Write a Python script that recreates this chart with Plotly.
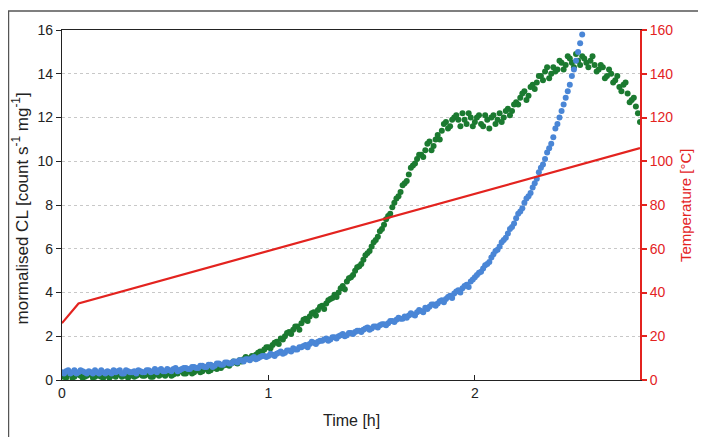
import plotly.graph_objects as go

# ---- data ----
time_h = [
    0.00, 0.02, 0.04, 0.06, 0.08, 0.10, 0.12, 0.14, 0.16, 0.18,
    0.20, 0.22, 0.24, 0.26, 0.28, 0.30, 0.32, 0.34, 0.36, 0.38,
    0.40, 0.42, 0.44, 0.46, 0.48, 0.50, 0.52, 0.54, 0.56, 0.58,
    0.60, 0.62, 0.64, 0.66, 0.68, 0.70, 0.72, 0.74, 0.76, 0.78,
    0.80, 0.82, 0.84, 0.86, 0.88, 0.90, 0.92, 0.94, 0.96, 0.98,
    1.00, 1.02, 1.04, 1.06, 1.08, 1.10, 1.12, 1.14, 1.16, 1.18,
    1.20, 1.22, 1.24, 1.26, 1.28, 1.30, 1.32, 1.34, 1.36, 1.38,
    1.40, 1.42, 1.44, 1.46, 1.48, 1.50, 1.52, 1.54, 1.56, 1.58,
    1.60, 1.62, 1.64, 1.66, 1.68, 1.70, 1.72, 1.74, 1.76, 1.78,
    1.80, 1.82, 1.84, 1.86, 1.88, 1.90, 1.92, 1.94, 1.96, 1.98,
    2.00, 2.02, 2.04, 2.06, 2.08, 2.10, 2.12, 2.14, 2.16, 2.18,
    2.20, 2.22, 2.24, 2.26, 2.28, 2.30, 2.32, 2.34, 2.36, 2.38,
    2.40, 2.42, 2.44, 2.46, 2.48, 2.50, 2.52, 2.54, 2.56, 2.58,
    2.60, 2.62, 2.64, 2.66, 2.68, 2.70, 2.72, 2.74, 2.76, 2.78,
    2.80,
]
time_h_mid = [
    0.01, 0.03, 0.05, 0.07, 0.09, 0.11, 0.13, 0.15, 0.17, 0.19,
    0.21, 0.23, 0.25, 0.27, 0.29, 0.31, 0.33, 0.35, 0.37, 0.39,
    0.41, 0.43, 0.45, 0.47, 0.49, 0.51, 0.53, 0.55, 0.57, 0.59,
    0.61, 0.63, 0.65, 0.67, 0.69, 0.71, 0.73, 0.75, 0.77, 0.79,
    0.81, 0.83, 0.85, 0.87, 0.89, 0.91, 0.93, 0.95, 0.97, 0.99,
    1.01, 1.03, 1.05, 1.07, 1.09, 1.11, 1.13, 1.15, 1.17, 1.19,
    1.21, 1.23, 1.25, 1.27, 1.29, 1.31, 1.33, 1.35, 1.37, 1.39,
    1.41, 1.43, 1.45, 1.47, 1.49, 1.51, 1.53, 1.55, 1.57, 1.59,
    1.61, 1.63, 1.65, 1.67, 1.69, 1.71, 1.73, 1.75, 1.77, 1.79,
    1.81, 1.83, 1.85, 1.87, 1.89, 1.91, 1.93, 1.95, 1.97, 1.99,
    2.01, 2.03, 2.05, 2.07, 2.09, 2.11, 2.13, 2.15, 2.17, 2.19,
    2.21, 2.23, 2.25, 2.27, 2.29, 2.31, 2.33, 2.35, 2.37, 2.39,
    2.41, 2.43, 2.45, 2.47, 2.49, 2.51, 2.53, 2.55, 2.57, 2.59,
    2.61, 2.63, 2.65, 2.67, 2.69, 2.71, 2.73, 2.75, 2.77, 2.79,
]

cl_green = [
    0.20, 0.10, 0.30, 0.15, 0.25, 0.10, 0.20, 0.30, 0.15, 0.20,
    0.10, 0.25, 0.20, 0.15, 0.30, 0.20, 0.10, 0.25, 0.20, 0.30,
    0.20, 0.25, 0.15, 0.30, 0.25, 0.20, 0.35, 0.25, 0.30, 0.40,
    0.30, 0.40, 0.35, 0.45, 0.40, 0.50, 0.45, 0.55, 0.60, 0.65,
    0.70, 0.75, 0.80, 0.90, 0.95, 1.00, 1.10, 1.15, 1.30, 1.40,
    1.50, 1.60, 1.75, 1.90, 2.00, 2.20, 2.30, 2.45, 2.60, 2.80,
    2.90, 3.10, 3.20, 3.40, 3.50, 3.70, 3.90, 4.00, 4.30, 4.50,
    4.70, 5.00, 5.20, 5.50, 5.80, 6.10, 6.40, 6.80, 7.10, 7.50,
    7.90, 8.30, 8.60, 9.00, 9.40, 9.80, 10.1, 10.3, 10.5, 10.9,
    10.7, 11.2, 11.4, 11.8, 11.6, 12.0, 11.9, 12.2, 11.7, 12.0,
    11.8, 12.1, 11.6, 11.9, 12.0, 11.7, 12.2, 12.0, 12.4, 12.3,
    12.7, 12.9, 13.2, 13.0, 13.5, 13.6, 13.9, 14.1, 13.8, 14.3,
    14.2, 14.5, 14.4, 14.7, 14.3, 14.6, 14.8, 14.5, 14.6, 14.4,
    14.2, 14.3, 13.9, 14.0, 13.7, 13.4, 13.5, 13.1, 12.8, 12.5,
    11.8,
]
cl_green_mid = [
    0.15, 0.25, 0.10, 0.30, 0.20, 0.15, 0.25, 0.10, 0.30, 0.15,
    0.20, 0.10, 0.30, 0.25, 0.15, 0.30, 0.20, 0.15, 0.25, 0.20,
    0.30, 0.15, 0.25, 0.20, 0.35, 0.30, 0.20, 0.35, 0.45, 0.30,
    0.45, 0.30, 0.50, 0.35, 0.55, 0.40, 0.60, 0.50, 0.55, 0.70,
    0.65, 0.85, 0.75, 0.85, 1.05, 0.95, 1.00, 1.25, 1.20, 1.50,
    1.45, 1.70, 1.65, 1.85, 2.15, 2.10, 2.45, 2.30, 2.75, 2.70,
    3.05, 2.95, 3.35, 3.25, 3.65, 3.75, 3.80, 4.20, 4.15, 4.65,
    4.80, 5.15, 5.30, 5.70, 5.90, 6.30, 6.55, 6.90, 7.35, 7.60,
    8.10, 8.40, 8.90, 9.10, 9.70, 9.90, 10.3, 10.2, 10.8, 10.5,
    11.0, 11.0, 11.7, 11.5, 11.9, 12.1, 11.6, 11.9, 12.2, 11.6,
    12.0, 11.7, 12.1, 11.5, 12.1, 11.9, 11.8, 12.3, 12.1, 12.6,
    12.6, 13.1, 12.8, 13.4, 13.3, 13.9, 13.7, 14.3, 14.0, 14.1,
    14.6, 14.2, 14.8, 14.5, 14.9, 14.4, 14.7, 14.3, 14.8, 14.1,
    14.4, 13.8, 14.2, 13.6, 13.9, 13.2, 13.6, 12.7, 12.9, 12.2,
]

cl_blue = [
    0.35, 0.40, 0.30, 0.45, 0.35, 0.40, 0.30, 0.35, 0.45, 0.30,
    0.35, 0.40, 0.30, 0.35, 0.45, 0.30, 0.40, 0.35, 0.30, 0.40,
    0.35, 0.45, 0.40, 0.35, 0.50, 0.40, 0.45, 0.50, 0.40, 0.50,
    0.55, 0.50, 0.60, 0.55, 0.65, 0.60, 0.70, 0.65, 0.75, 0.70,
    0.80, 0.75, 0.85, 0.90, 0.85, 0.95, 1.00, 0.95, 1.05, 1.10,
    1.10, 1.15, 1.20, 1.30, 1.25, 1.35, 1.45, 1.40, 1.50, 1.60,
    1.65, 1.70, 1.75, 1.80, 1.90, 1.85, 1.95, 2.00, 2.10, 2.05,
    2.15, 2.20, 2.25, 2.30, 2.40, 2.35, 2.45, 2.50, 2.55, 2.60,
    2.70, 2.75, 2.80, 2.90, 2.95, 3.00, 3.10, 3.15, 3.30, 3.35,
    3.45, 3.50, 3.65, 3.70, 3.85, 3.95, 4.10, 4.20, 4.35, 4.50,
    4.70, 4.90, 5.10, 5.30, 5.60, 5.90, 6.10, 6.40, 6.70, 7.00,
    7.40, 7.70, 8.10, 8.40, 8.80, 9.20, 9.70, 10.1, 10.6, 11.1,
    11.7, 12.3, 12.9, 13.5, 14.2, 15.0, 15.8,
]
cl_blue_mid = [
    0.30, 0.45, 0.35, 0.30, 0.45, 0.35, 0.40, 0.30, 0.35, 0.45,
    0.30, 0.35, 0.45, 0.40, 0.30, 0.45, 0.35, 0.40, 0.45, 0.35,
    0.45, 0.35, 0.50, 0.45, 0.40, 0.50, 0.40, 0.55, 0.45, 0.55,
    0.50, 0.60, 0.55, 0.65, 0.60, 0.70, 0.60, 0.75, 0.70, 0.80,
    0.75, 0.85, 0.80, 0.90, 0.95, 0.90, 1.05, 1.00, 1.10, 1.05,
    1.20, 1.10, 1.25, 1.20, 1.35, 1.30, 1.40, 1.50, 1.55, 1.50,
    1.75, 1.65, 1.80, 1.85, 1.80, 1.95, 1.90, 2.05, 2.00, 2.15,
    2.10, 2.25, 2.20, 2.35, 2.30, 2.45, 2.40, 2.55, 2.50, 2.70,
    2.65, 2.85, 2.80, 2.85, 3.05, 2.95, 3.20, 3.10, 3.25, 3.45,
    3.40, 3.60, 3.55, 3.80, 3.75, 4.05, 4.00, 4.30, 4.25, 4.60,
    4.80, 4.95, 5.25, 5.40, 5.75, 5.95, 6.30, 6.50, 6.90, 7.15,
    7.60, 7.85, 8.30, 8.55, 9.00, 9.50, 9.85, 10.4, 10.8, 11.5,
    12.0, 12.6, 13.2, 13.9, 14.6, 15.4,
]

temp_time_h = [0.00, 0.08, 2.80]
temperature_c = [26, 35, 106]

y_left_ticks = [0, 2, 4, 6, 8, 10, 12, 14, 16]
y_right_ticks = [0, 20, 40, 60, 80, 100, 120, 140, 160]
x_ticks = [0, 1, 2]

GREEN = "#1b7a30"
BLUE = "#4a86d6"
RED = "#e3231f"
FONT = "Liberation Sans, Arial, sans-serif"

green_x = time_h[:len(cl_green)] + time_h_mid[:len(cl_green_mid)]
green_y = cl_green + cl_green_mid
blue_x = time_h[:len(cl_blue)] + time_h_mid[:len(cl_blue_mid)]
blue_y = cl_blue + cl_blue_mid

fig = go.Figure()
fig.add_trace(go.Scatter(
    x=green_x, y=green_y, mode="markers",
    marker=dict(color=GREEN, size=6, line=dict(width=0)),
    showlegend=False, yaxis="y"))
fig.add_trace(go.Scatter(
    x=blue_x, y=blue_y, mode="markers",
    marker=dict(color=BLUE, size=6, line=dict(width=0)),
    showlegend=False, yaxis="y"))
fig.add_trace(go.Scatter(
    x=temp_time_h, y=temperature_c, mode="lines",
    line=dict(color=RED, width=2.2),
    showlegend=False, yaxis="y2"))

# the page body adds an 8 px offset, so the figure is sized to compensate
fig.update_layout(
    width=698, height=429,
    margin=dict(l=54, r=66, t=22, b=57, autoexpand=False),
    paper_bgcolor="white", plot_bgcolor="white",
    font=dict(family=FONT, size=14, color="#222"),
    xaxis=dict(
        range=[0, 2.8], tickvals=x_ticks, ticktext=[str(v) for v in x_ticks],
        showline=True, linecolor="#222", linewidth=1.2, mirror=True,
        ticks="inside", ticklen=5, tickcolor="#222",
        showgrid=False, zeroline=False, automargin=False,
        tickfont=dict(size=14),
    ),
    yaxis=dict(
        range=[0, 16], tickvals=y_left_ticks,
        showline=True, linecolor="#222", linewidth=1.2,
        ticks="outside", ticklen=5, tickcolor="#222",
        showgrid=True, gridcolor="#c8c8c8", griddash="dot", gridwidth=1,
        zeroline=False, automargin=False,
        tickfont=dict(size=14),
    ),
    yaxis2=dict(
        range=[0, 160], tickvals=y_right_ticks, overlaying="y", side="right",
        showline=True, linecolor=RED, linewidth=2,
        ticks="outside", ticklen=5, tickcolor=RED, tickwidth=2,
        tickfont=dict(color=RED, size=14),
        showgrid=False, zeroline=False, automargin=False,
    ),
    annotations=[
        dict(text="Time [h]", xref="paper", yref="paper", x=0.5, y=-0.117,
             showarrow=False, xanchor="center", yanchor="middle",
             font=dict(size=16, color="#222")),
        dict(text="mormalised CL [count s<sup>-1</sup> mg<sup>-1</sup>]",
             xref="paper", yref="paper", x=-0.0727, y=0.49, textangle=-90,
             showarrow=False, xanchor="center", yanchor="middle",
             font=dict(size=17, color="#222")),
        dict(text="Temperature [°C]", xref="paper", yref="paper", x=1.078, y=0.5,
             textangle=-90, showarrow=False, xanchor="center", yanchor="middle",
             font=dict(size=15, color=RED)),
    ],
    shapes=[dict(type="rect", xref="paper", yref="paper",
                 x0=-0.0926, y0=-0.2, x1=1.13, y1=1.054,
                 line=dict(color="#555", width=1.5), layer="below")],
)

fig.write_html("out.html")
